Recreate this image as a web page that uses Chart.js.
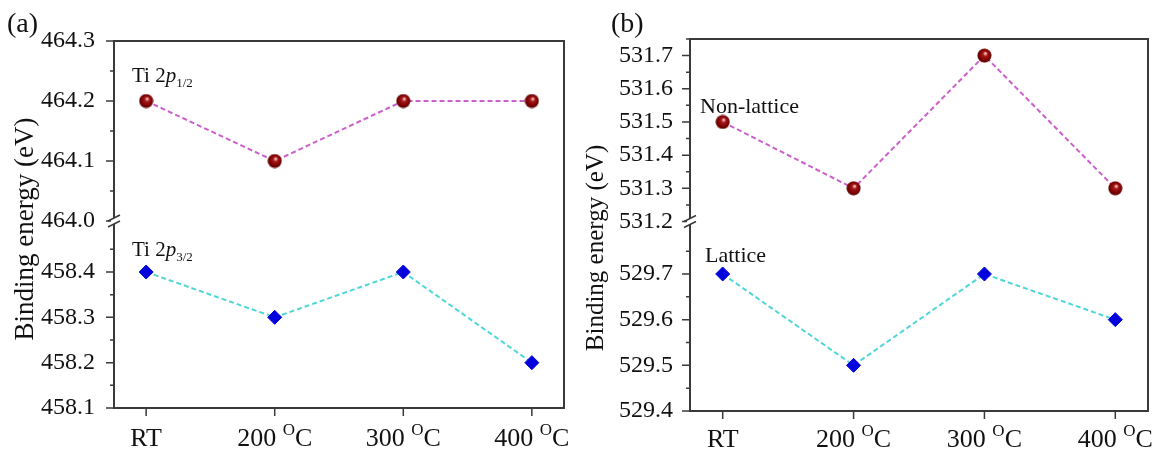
<!DOCTYPE html>
<html>
<head>
<meta charset="utf-8">
<script src="https://cdn.jsdelivr.net/npm/chart.js@4.4.1/dist/chart.umd.min.js"></script>
<style>
  html, body { margin: 0; padding: 0; background: #fff; }
  #wrap { position: relative; width: 1171px; height: 456px; overflow: hidden; }
  .panel { position: absolute; top: 0; height: 456px; }
  #panelA { left: 0; width: 580px; }
  #panelB { left: 580px; width: 591px; }
</style>
</head>
<body>
<div id="wrap">
  <div class="panel" id="panelA"><canvas id="chartA" width="580" height="456"></canvas></div>
  <div class="panel" id="panelB"><canvas id="chartB" width="591" height="456"></canvas></div>
</div>
<script>
// ============================================
// Data
// ============================================

const categories = ['RT', '200 °C', '300 °C', '400 °C'];

// (a) Ti 2p
const ti2p12 = [464.2, 464.1, 464.2, 464.2];
const ti2p32 = [458.4, 458.3, 458.4, 458.2];

// (b) O 1s
const nonLattice = [531.5, 531.3, 531.7, 531.3];
const lattice = [529.7, 529.5, 529.7, 529.6];

// tick labels of the broken y axes
const ticksAUpper = [464.0, 464.1, 464.2, 464.3];
const ticksALower = [458.1, 458.2, 458.3, 458.4];
const ticksBUpper = [531.2, 531.3, 531.4, 531.5, 531.6, 531.7];
const ticksBLower = [529.4, 529.5, 529.6, 529.7];

// ============================================
// Styles
// ============================================

const SERIF = '"Liberation Serif", "Times New Roman", serif';
const FRAME = '#3a3a3a';
const PINK = '#cc5fcc';
const CYAN = '#4fd6d6';
const BLUE = '#0000dd';

function makeSphere(d) {
    const c = document.createElement('canvas');
    c.width = d;
    c.height = d;
    const g = c.getContext('2d');
    const r = d / 2;
    const grad = g.createRadialGradient(r * 1.15, r * 0.7, r * 0.08, r, r, r);
    grad.addColorStop(0, '#f4c4c4');
    grad.addColorStop(0.25, '#a81818');
    grad.addColorStop(0.75, '#760000');
    grad.addColorStop(1, '#4c0000');
    g.fillStyle = grad;
    g.beginPath();
    g.arc(r, r, r - 0.5, 0, Math.PI * 2);
    g.fill();
    return c;
}
const sphere = makeSphere(15);

function toPoints(values) {
    return values.map((v, i) => ({ x: i, y: v }));
}

// draw a run of text pieces, each with its own font and vertical shift
function drawRich(ctx, parts, x, y) {
    let cx = x;
    parts.forEach(p => {
        ctx.font = p.font;
        ctx.fillText(p.t, cx, y + (p.dy || 0));
        cx += ctx.measureText(p.t).width;
    });
}

function richWidth(ctx, parts) {
    let w = 0;
    parts.forEach(p => { ctx.font = p.font; w += ctx.measureText(p.t).width; });
    return w;
}

// ============================================
// Decoration plugin: frame, ticks, break, titles
// ============================================

function decorPlugin(cfg) {
    return {
        id: 'decor',
        afterDraw(chart) {
            const ctx = chart.ctx;
            const a = chart.chartArea;
            const xs = chart.scales.x;
            const up = chart.scales.yUp;
            const lo = chart.scales.yLo;

            ctx.save();
            ctx.strokeStyle = FRAME;
            ctx.lineWidth = 2;

            // top and right of the box
            ctx.beginPath();
            ctx.moveTo(a.left - 1, a.top);
            ctx.lineTo(a.right, a.top);
            ctx.lineTo(a.right, a.bottom + 1);
            ctx.stroke();

            // y ticks, major and minor
            ctx.lineWidth = 1.5;
            [[up, cfg.upTicks], [lo, cfg.loTicks]].forEach(([s, majors]) => {
                const minors = [];
                majors.forEach(v => {
                    [v - 0.05, v + 0.05].forEach(m => {
                        if (m > s.min + 1e-6 && m <= s.max + 1e-6 &&
                            !minors.some(q => Math.abs(q - m) < 1e-6)) minors.push(m);
                    });
                });
                ctx.beginPath();
                majors.forEach(v => {
                    const py = s.getPixelForValue(v);
                    ctx.moveTo(a.left - 8, py);
                    ctx.lineTo(a.left, py);
                });
                minors.forEach(v => {
                    const py = s.getPixelForValue(v);
                    ctx.moveTo(a.left - 4, py);
                    ctx.lineTo(a.left, py);
                });
                ctx.stroke();
            });

            // x ticks
            ctx.beginPath();
            categories.forEach((c, i) => {
                const px = xs.getPixelForValue(i);
                ctx.moveTo(px, a.bottom);
                ctx.lineTo(px, a.bottom + 8);
            });
            ctx.stroke();

            // axis break on the left spine
            const yb = up.bottom;
            ctx.fillStyle = '#fff';
            ctx.fillRect(a.left - 3, yb - 3, 6, 6);
            ctx.strokeStyle = FRAME;
            ctx.lineWidth = 1.5;
            ctx.beginPath();
            [-3, 3].forEach(d => {
                ctx.moveTo(a.left - 6, yb + d + 3);
                ctx.lineTo(a.left + 6, yb + d - 3);
            });
            ctx.stroke();

            // x labels with raised "O" for degree
            ctx.fillStyle = '#111';
            ctx.textBaseline = 'alphabetic';
            ctx.textAlign = 'left';
            categories.forEach((c, i) => {
                const px = xs.getPixelForValue(i);
                let parts;
                if (c.indexOf('°') >= 0) {
                    const [num, unit] = c.split('°');
                    parts = [
                        { t: num, font: '26px ' + SERIF },
                        { t: 'O', font: '17px ' + SERIF, dy: -11 },
                        { t: unit, font: '26px ' + SERIF }
                    ];
                } else {
                    parts = [{ t: c, font: '26px ' + SERIF }];
                }
                drawRich(ctx, parts, px - richWidth(ctx, parts) / 2, cfg.xLabelY);
            });

            // y title
            ctx.save();
            ctx.translate(cfg.titleX, cfg.titleY);
            ctx.rotate(-Math.PI / 2);
            ctx.textAlign = 'center';
            ctx.textBaseline = 'middle';
            ctx.font = cfg.titleSize + 'px ' + SERIF;
            ctx.fillText('Binding energy (eV)', 0, 0);
            ctx.restore();

            // panel letter
            ctx.font = '28px ' + SERIF;
            ctx.fillText(cfg.letter, cfg.letterX, 32);

            // series annotations
            cfg.notes.forEach(n => drawRich(ctx, n.parts, n.x, n.y));

            ctx.restore();
        }
    };
}

// ============================================
// Chart builder
// ============================================

function buildPanel(canvasId, cfg) {
    const axisCommon = {
        type: 'linear',
        position: 'left',
        stack: 'energy',
        grid: { display: false },
        border: { color: FRAME, width: 2 },
        ticks: {
            autoSkip: false,
            padding: cfg.tickPad,
            color: '#111',
            font: { family: SERIF, size: 24 },
            callback: v => v.toFixed(1)
        },
        afterFit: s => { s.width = cfg.yWidth; }
    };

    return new Chart(document.getElementById(canvasId), {
        type: 'line',
        data: {
            datasets: [
                {
                    label: cfg.upLabel,
                    data: toPoints(cfg.upData),
                    yAxisID: 'yUp',
                    borderColor: PINK,
                    borderWidth: 2,
                    borderDash: [5, 3],
                    pointStyle: sphere,
                    pointRadius: 7.5,
                    tension: 0
                },
                {
                    label: cfg.loLabel,
                    data: toPoints(cfg.loData),
                    yAxisID: 'yLo',
                    borderColor: CYAN,
                    borderWidth: 2,
                    borderDash: [5, 3],
                    pointStyle: 'rectRot',
                    pointRadius: 7,
                    pointBackgroundColor: BLUE,
                    pointBorderColor: BLUE,
                    pointBorderWidth: 1,
                    tension: 0
                }
            ]
        },
        options: {
            responsive: false,
            animation: false,
            devicePixelRatio: 1,
            layout: { padding: { left: 0, top: cfg.top, right: cfg.right, bottom: 0 } },
            plugins: { legend: { display: false }, tooltip: { enabled: false } },
            scales: {
                x: {
                    type: 'linear',
                    min: -0.25,
                    max: 3.25,
                    grid: { display: false },
                    border: { color: FRAME, width: 2 },
                    ticks: { display: false },
                    afterFit: s => { s.height = cfg.xHeight; }
                },
                yLo: Object.assign({}, axisCommon, {
                    weight: 0,
                    stackWeight: cfg.loWeight,
                    min: cfg.loMin,
                    max: cfg.loMax,
                    afterBuildTicks: s => { s.ticks = cfg.loTicks.map(v => ({ value: v })); }
                }),
                yUp: Object.assign({}, axisCommon, {
                    weight: 1,
                    stackWeight: cfg.upWeight,
                    min: cfg.upMin,
                    max: cfg.upMax,
                    afterBuildTicks: s => { s.ticks = cfg.upTicks.map(v => ({ value: v })); }
                })
            }
        },
        plugins: [decorPlugin(cfg)]
    });
}

const noteFont = '21px ' + SERIF;

buildPanel('chartA', {
    letter: '(a)', letterX: 7,
    upLabel: 'Ti 2p1/2', loLabel: 'Ti 2p3/2',
    upData: ti2p12, loData: ti2p32,
    upTicks: ticksAUpper, loTicks: ticksALower,
    upMin: 464.0, upMax: 464.3, loMin: 458.1, loMax: 458.5125,
    upWeight: 180, loWeight: 187,
    yWidth: 114, xHeight: 48, top: 41, right: 16, tickPad: 11,
    xLabelY: 446,
    titleX: 26, titleY: 229, titleSize: 27,
    notes: [
        { x: 132, y: 82, parts: [
            { t: 'Ti 2', font: noteFont },
            { t: 'p', font: 'italic ' + noteFont },
            { t: '1/2', font: '13px ' + SERIF, dy: 5 }
        ] },
        { x: 132, y: 256, parts: [
            { t: 'Ti 2', font: noteFont },
            { t: 'p', font: 'italic ' + noteFont },
            { t: '3/2', font: '13px ' + SERIF, dy: 5 }
        ] }
    ]
});

buildPanel('chartB', {
    letter: '(b)', letterX: 31,
    upLabel: 'Non-lattice', loLabel: 'Lattice',
    upData: nonLattice, loData: lattice,
    upTicks: ticksBUpper, loTicks: ticksBLower,
    upMin: 531.2, upMax: 531.75, loMin: 529.4, loMax: 529.815,
    upWeight: 182, loWeight: 189,
    yWidth: 110, xHeight: 45, top: 39, right: 23, tickPad: 9,
    xLabelY: 447,
    titleX: 16, titleY: 248, titleSize: 25,
    notes: [
        { x: 120, y: 113, parts: [{ t: 'Non-lattice', font: '22px ' + SERIF }] },
        { x: 125, y: 262, parts: [{ t: 'Lattice', font: '22px ' + SERIF }] }
    ]
});
</script>
</body>
</html>
